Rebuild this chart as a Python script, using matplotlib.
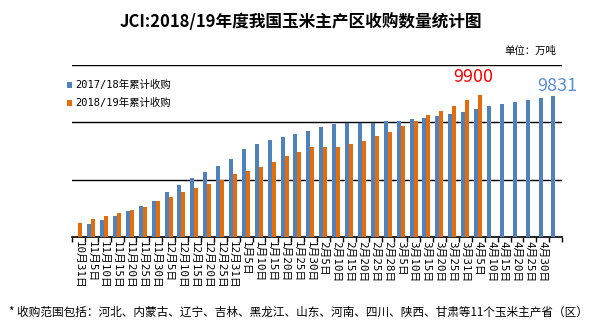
#!/usr/bin/env python3
"""JCI: 2018/19 玉米主产区收购数量 - 累计柱状图"""
import numpy as np
import matplotlib
matplotlib.use("Agg")
import matplotlib.pyplot as plt
from matplotlib.ticker import FixedLocator, NullFormatter

plt.rcParams['font.family'] = ['Noto Sans CJK SC', 'DejaVu Sans']

dates = ['10月31日', '11月5日', '11月10日', '11月15日', '11月20日', '11月25日',
         '11月30日', '12月5日', '12月10日', '12月15日', '12月20日', '12月25日',
         '12月31日', '1月5日', '1月10日', '1月15日', '1月20日', '1月25日',
         '1月30日', '2月5日', '2月10日', '2月15日', '2月20日', '2月25日',
         '2月28日', '3月5日', '3月10日', '3月15日', '3月20日', '3月25日',
         '3月31日', '4月5日', '4月10日', '4月15日', '4月20日', '4月25日',
         '4月30日', '']

# 2017/18 累计收购 (万吨)
buy_1718 = [0, 915, 1196, 1478, 1830, 2182, 2534, 3097, 3589, 4082, 4504, 4927,
            5419, 6123, 6475, 6756, 6968, 7179, 7390, 7671, 7883, 7953, 7953,
            7953, 8070, 8094, 8220, 8281, 8422, 8563, 8704, 8915, 9126, 9267,
            9407, 9548, 9689, 9831]
# 2018/19 累计收购 (万吨), 截至 4月5日
buy_1819 = [985, 1267, 1478, 1689, 1900, 2111, 2534, 2815, 3097, 3378, 3660,
            3941, 4364, 4575, 4856, 5208, 5630, 5912, 6264, 6264, 6264, 6475,
            6686, 7038, 7320, 7742, 8100, 8493, 8774, 9126, 9548, 9900]

BLUE = '#4F81BD'
ORANGE = '#E46C0A'
MONO = ['DejaVu Sans Mono', 'Noto Sans CJK SC']

fig = plt.figure(figsize=(6.15, 3.36), dpi=100)
ax = fig.add_axes([0.117, 0.295, 0.797, 0.512])

x = np.arange(len(dates))
w = 0.31
ax.bar(x - 0.17, buy_1718, w, color=BLUE, label='2017/18年累计收购', zorder=3)
x2 = np.arange(len(buy_1819))
ax.bar(x2 + 0.14, buy_1819, w, color=ORANGE, label='2018/19年累计收购', zorder=3)

ax.set_xlim(-0.5, len(dates) - 0.5)
ax.set_ylim(0, 12000)
ax.set_yticks([4000, 8000, 12000])
ax.yaxis.grid(True, color='black', linewidth=1.0)
ax.tick_params(axis='y', left=False, labelleft=False)
for s in ['left', 'right', 'top']:
    ax.spines[s].set_visible(False)
ax.spines['bottom'].set_linewidth(1.2)

ax.set_xticks(x)
ax.set_xticklabels(dates, rotation=270, va='top', ha='center',
                   fontsize=7.8, family=MONO)
ax.tick_params(axis='x', which='major', length=0, pad=3)
ax.xaxis.set_minor_locator(FixedLocator(np.arange(-0.5, len(dates), 1.0)))
ax.xaxis.set_minor_formatter(NullFormatter())
ax.tick_params(axis='x', which='minor', length=3.5, width=1, direction='out')

# 末值标注
ax.text(x2[-1] - 0.4, buy_1819[-1] + 650, f'{buy_1819[-1]}', color='#FF0000',
        fontsize=13, ha='center', va='bottom')
ax.text(x[-1] + 0.1, buy_1718[-1] + 100, f'{buy_1718[-1]}', color='#5B8FD8',
        fontsize=13, ha='center', va='bottom')

leg = ax.legend(loc='upper left', bbox_to_anchor=(-0.03, 0.965), frameon=False,
                prop={'family': MONO, 'size': 7.5}, handlelength=0.55,
                handleheight=0.55, handletextpad=0.25, labelspacing=0.75)

fig.text(0.49, 0.935, 'JCI:2018/19年度我国玉米主产区收购数量统计图',
         ha='center', va='center', fontsize=12, fontweight='bold')
fig.text(0.905, 0.85, '单位：万吨', ha='right', va='center', fontsize=7.5)
fig.text(0.015, 0.072,
         '* 收购范围包括：河北、内蒙古、辽宁、吉林、黑龙江、山东、河南、四川、陕西、甘肃等11个玉米主产省（区）',
         ha='left', va='center', fontsize=8.4)

fig.savefig('out.png', dpi=100)
